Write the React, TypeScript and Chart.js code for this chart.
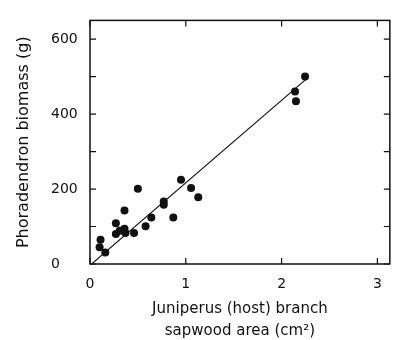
import React, { useEffect, useRef } from "react";
import { Chart, registerables } from "chart.js";

Chart.register(...registerables);

// Observed points: host branch sapwood area (cm²) vs Phoradendron biomass (g)
const sapwoodArea = [
  0.11, 0.10, 0.16, 0.27, 0.27, 0.31, 0.36, 0.37, 0.36, 0.46,
  0.50, 0.58, 0.64, 0.77, 0.77, 0.87, 0.95, 1.055, 1.13, 2.14,
  2.15, 2.245,
];
const biomass = [
  65, 45, 31, 109, 80, 89, 94, 83, 143, 83,
  201, 101, 124, 167, 158, 124, 225, 203, 178, 460,
  434, 500,
];
// Fitted regression line end points
const fitX = [0.02, 2.26];
const fitY = [1, 494];

const xTicks = [0, 1, 2, 3];
const yTicks = [0, 100, 200, 300, 400, 500, 600];
const yLabelled = [0, 200, 400, 600];

const yTitle = "Phoradendron biomass (g)";
const xTitle = ["Juniperus (host) branch", "sapwood area (cm²)"];

const INK = "#111";

const framePlugin = {
  id: "frameTicks",
  afterDraw(chart: any) {
    const { ctx, chartArea, scales } = chart;
    const { left, right, top, bottom } = chartArea;
    ctx.save();
    ctx.strokeStyle = INK;
    ctx.lineWidth = 1.5;
    ctx.strokeRect(left, top, right - left, bottom - top);
    ctx.lineWidth = 1.2;
    const len = 6;
    ctx.beginPath();
    xTicks.forEach((v) => {
      const px = scales.x.getPixelForValue(v);
      ctx.moveTo(px, bottom);
      ctx.lineTo(px, bottom - len);
      ctx.moveTo(px, top);
      ctx.lineTo(px, top + len);
    });
    yTicks.forEach((v) => {
      const py = scales.y.getPixelForValue(v);
      ctx.moveTo(left, py);
      ctx.lineTo(left + len, py);
      ctx.moveTo(right, py);
      ctx.lineTo(right - len, py);
    });
    ctx.stroke();
    ctx.restore();
  },
};

export default function App() {
  const ref = useRef<HTMLCanvasElement | null>(null);
  useEffect(() => {
    if (!ref.current) return;
    const chart = new Chart(ref.current, {
      type: "scatter",
      data: {
        datasets: [
          {
            type: "line",
            data: fitX.map((x, i) => ({ x, y: fitY[i] })),
            borderColor: INK,
            borderWidth: 1.2,
            pointRadius: 0,
            fill: false,
          } as any,
          {
            data: sapwoodArea.map((x, i) => ({ x, y: biomass[i] })),
            backgroundColor: INK,
            borderColor: INK,
            pointRadius: 4,
            borderWidth: 0,
          },
        ],
      },
      plugins: [framePlugin],
      options: {
        animation: false,
        responsive: true,
        maintainAspectRatio: false,
        layout: { padding: { top: 7, right: 1, left: 51, bottom: -2 } },
        plugins: { legend: { display: false }, tooltip: { enabled: false } },
        scales: {
          x: {
            type: "linear",
            min: 0,
            max: 3.13,
            grid: { display: false, drawTicks: false },
            border: { display: false },
            afterBuildTicks: (s: any) => {
              s.ticks = xTicks.map((v) => ({ value: v }));
            },
            afterFit: (s: any) => {
              s.height = 78;
            },
            ticks: {
              color: INK,
              padding: 12,
              font: { family: "DejaVu Sans", size: 14 },
              callback: (v: any) => String(v),
            },
            title: {
              display: true,
              text: xTitle,
              color: INK,
              font: { family: "DejaVu Sans", size: 15, lineHeight: 1.45 },
              padding: { top: 0, bottom: 0 },
            },
          },
          y: {
            type: "linear",
            min: 0,
            max: 650,
            grid: { display: false, drawTicks: false },
            border: { display: false },
            afterBuildTicks: (s: any) => {
              s.ticks = yTicks.map((v) => ({ value: v }));
            },
            afterFit: (s: any) => {
              s.width = 39;
            },
            ticks: {
              color: INK,
              padding: 12,
              crossAlign: "far",
              font: { family: "DejaVu Sans", size: 14 },
              callback: (v: any) => (yLabelled.includes(v) ? String(v) : ""),
            },
            title: {
              display: true,
              text: yTitle,
              color: INK,
              font: { family: "DejaVu Sans", size: 16, lineHeight: 1.2 },
              padding: { top: -36.6, bottom: 0 },
            },
          },
        },
      },
    });
    return () => chart.destroy();
  }, []);
  return (
    <div style={{ position: "fixed", left: 0, top: 0, width: 394, height: 340, background: "#fff" }}>
      <canvas ref={ref} />
    </div>
  );
}
